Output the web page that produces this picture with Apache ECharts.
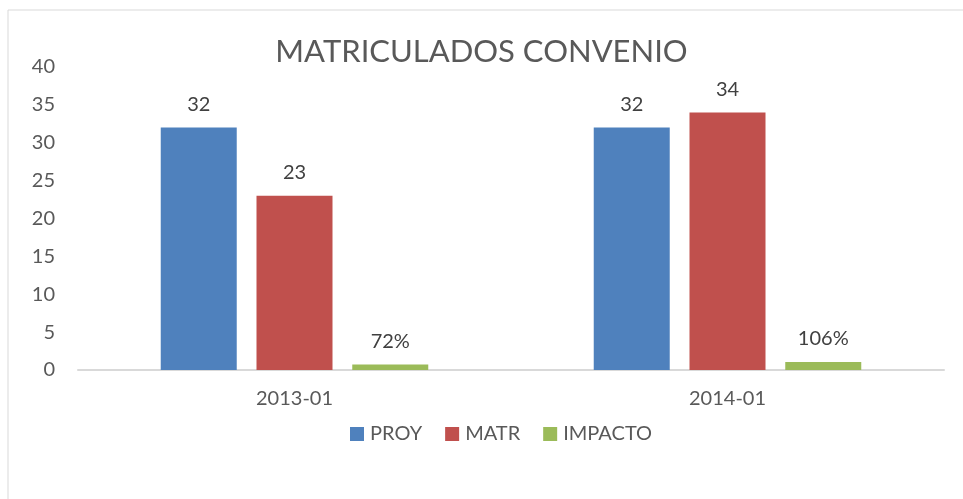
<!DOCTYPE html>
<html>
<head>
<meta charset="utf-8">
<script src="https://cdn.jsdelivr.net/npm/echarts@6/dist/echarts.min.js"></script>
<style>
  html, body { margin: 0; padding: 0; background: #fff; }
  #chart { width: 963px; height: 499px; }
</style>
</head>
<body>
<div id="chart"></div>
<script>
const categories = ['2013-01', '2014-01'];
const proy = [32, 32];
const matr = [23, 34];
const impacto = [0.72, 1.06];

const chart = echarts.init(document.getElementById('chart'));
const font = 'Lato, "Open Sans", sans-serif';
const grey = '#595959';

const labelStyle = {
  show: true,
  position: 'top',
  distance: 13,
  color: '#404040',
  fontSize: 20,
  fontFamily: font
};

chart.setOption({
  animation: false,
  graphic: [{
    type: 'rect',
    shape: { x: 8, y: 10, width: 1000, height: 600 },
    style: { fill: 'none', stroke: '#d9d9d9', lineWidth: 1 },
    silent: true
  }],
  title: {
    text: 'MATRICULADOS CONVENIO',
    left: 'center',
    top: 31,
    textStyle: { color: grey, fontSize: 31, fontWeight: 'normal', fontFamily: font }
  },
  legend: {
    bottom: 50,
    left: 345,
    itemWidth: 14,
    itemHeight: 14,
    itemGap: 23,
    icon: 'rect',
    textStyle: { color: grey, fontSize: 20, fontFamily: font, padding: [0, 0, 0, 1] },
    data: ['PROY', 'MATR', 'IMPACTO']
  },
  grid: { left: 78, right: 19, top: 67, bottom: 129 },
  xAxis: {
    type: 'category',
    data: categories,
    axisLine: { lineStyle: { color: '#d9d9d9', width: 2 } },
    axisTick: { show: false },
    axisLabel: { color: grey, fontSize: 20, fontFamily: font, margin: 19 }
  },
  yAxis: {
    type: 'value',
    min: 0,
    max: 40,
    interval: 5,
    splitLine: { show: false },
    axisLine: { show: false },
    axisTick: { show: false },
    axisLabel: { color: grey, fontSize: 20, fontFamily: font, margin: 23 }
  },
  series: [
    {
      name: 'PROY', type: 'bar', data: proy,
      barWidth: 76, barGap: '26%',
      itemStyle: { color: '#4f81bd' },
      label: labelStyle
    },
    {
      name: 'MATR', type: 'bar', data: matr,
      barWidth: 76,
      itemStyle: { color: '#c0504d' },
      label: labelStyle
    },
    {
      name: 'IMPACTO', type: 'bar', data: impacto,
      barWidth: 76,
      itemStyle: { color: '#9bbb59' },
      label: Object.assign({}, labelStyle, {
        formatter: (p) => Math.round(p.value * 100) + '%'
      })
    }
  ]
});

window.addEventListener('resize', () => chart.resize());
</script>
</body>
</html>
